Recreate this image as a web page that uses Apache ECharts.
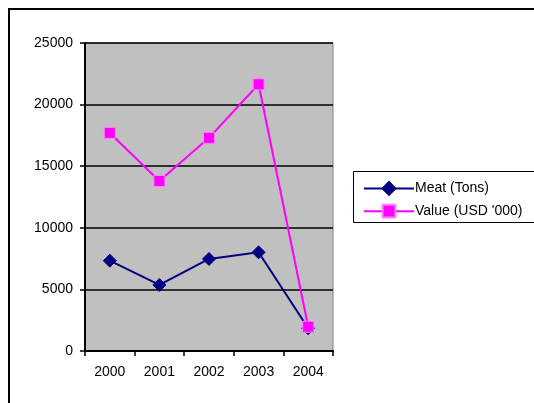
<!DOCTYPE html>
<html>
<head>
<meta charset="utf-8">
<script src="https://cdn.jsdelivr.net/npm/echarts@6/dist/echarts.min.js"></script>
<style>
  html, body { margin: 0; padding: 0; background: #fff; }
  #chart { width: 534px; height: 403px; }
</style>
</head>
<body>
<div id="chart"></div>
<script>
// Years on the category axis
const years = ['2000', '2001', '2002', '2003', '2004'];
// Meat exported, tons
const meatTons = [7330, 5360, 7470, 8010, 1850];
// Export value, thousands of USD
const valueUsd = [17700, 13800, 17300, 21650, 1970];
// Series names shown in the legend
const seriesNames = ['Meat (Tons)', "Value (USD '000)"];

const font = 'Liberation Sans, Arial, sans-serif';
const chart = echarts.init(document.getElementById('chart'), null, { renderer: 'canvas' });

chart.setOption({
  animation: false,
  backgroundColor: '#ffffff',
  textStyle: { fontFamily: font },
  graphic: [
    {
      // outer chart frame, running past the right and bottom edges
      type: 'rect',
      shape: { x: 9, y: 9, width: 540, height: 420 },
      style: { fill: 'none', stroke: '#000', lineWidth: 2 },
      z: 100
    },
    {
      // legend box
      type: 'rect',
      shape: { x: 353.5, y: 171.5, width: 190, height: 51 },
      style: { fill: '#fff', stroke: '#000', lineWidth: 1 },
      z: 1
    }
  ],
  grid: {
    left: 85, top: 43, width: 248, height: 308,
    show: true,
    backgroundColor: '#c0c0c0',
    borderColor: '#808080',
    borderWidth: 1,
    containLabel: false
  },
  legend: {
    left: 358, top: 176,
    orient: 'vertical',
    itemGap: 8,
    itemWidth: 50, itemHeight: 16,
    textStyle: { fontFamily: font, fontSize: 14, color: '#000', padding: [0, 0, 0, -4] },
    data: seriesNames,
    z: 5
  },
  xAxis: {
    type: 'category',
    data: years,
    boundaryGap: true,
    axisLine: { show: true, lineStyle: { color: '#000', width: 2 } },
    axisTick: { show: true, length: 5, lineStyle: { color: '#000', width: 1.5 } },
    axisLabel: { color: '#000', fontSize: 14, fontFamily: font, margin: 14 },
    splitLine: { show: false }
  },
  yAxis: {
    type: 'value',
    min: 0, max: 25000, interval: 5000,
    axisLine: { show: true, lineStyle: { color: '#000', width: 2 } },
    axisTick: { show: true, length: 5, lineStyle: { color: '#000', width: 1.5 } },
    axisLabel: { color: '#000', fontSize: 14, fontFamily: font, margin: 12, formatter: v => String(v) },
    splitLine: { show: true, lineStyle: { color: '#000', width: 1.5 } }
  },
  series: [
    {
      name: seriesNames[0],
      type: 'line',
      data: meatTons,
      symbol: 'diamond',
      symbolSize: 13,
      lineStyle: { color: '#000080', width: 2 },
      itemStyle: { color: '#000080', borderColor: '#000080', borderWidth: 1 },
      z: 3
    },
    {
      name: seriesNames[1],
      type: 'line',
      data: valueUsd,
      symbol: 'rect',
      symbolSize: 11,
      lineStyle: { color: '#ff00ff', width: 2 },
      itemStyle: { color: '#ff00ff', borderColor: '#ff80ff', borderWidth: 1 },
      z: 4
    }
  ]
});
</script>
</body>
</html>
